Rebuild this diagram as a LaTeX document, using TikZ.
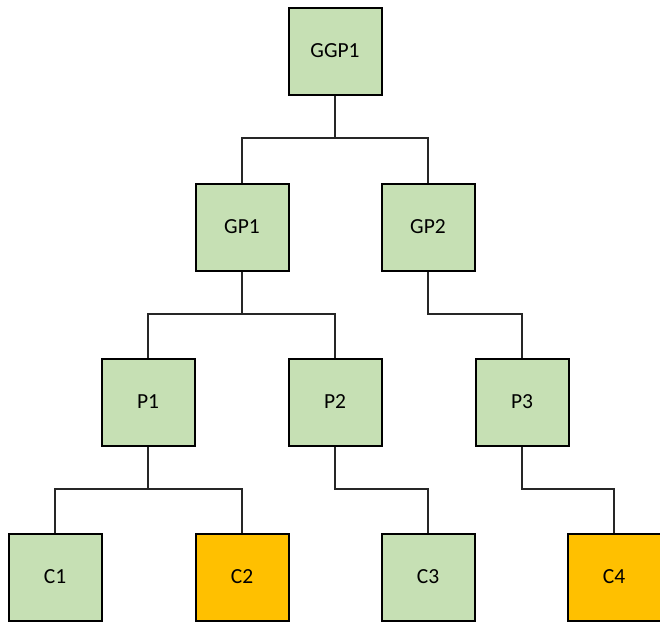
\documentclass[tikz,border=0pt]{standalone}
\usepackage{fontspec}
\setmainfont{Carlito}
\definecolor{leafgreen}{HTML}{C6E0B4}
\definecolor{amber}{HTML}{FFC000}
\begin{document}
\begin{tikzpicture}[x=1pt,y=-1pt,
  person/.style={draw=black,line width=2pt,fill=leafgreen,minimum width=93pt,minimum height=87pt,inner sep=0pt,font=\fontsize{21.5}{25}\selectfont},
  marked/.style={person,fill=amber},
  link/.style={draw=black!85,line width=1.3pt}]
\useasboundingbox (0,0) rectangle (660,621);
% generation 0
\node[person] (ggp1) at (335,51) {GGP1};
% generation 1
\node[person] (gp1) at (242,227) {GP1};
\node[person] (gp2) at (428,227) {GP2};
% generation 2
\node[person] (p1) at (148,402) {P1};
\node[person] (p2) at (335,402) {P2};
\node[person] (p3) at (522,402) {P3};
% generation 3
\node[person] (c1) at (55,577) {C1};
\node[marked] (c2) at (242,577) {C2};
\node[person] (c3) at (428,577) {C3};
\node[marked] (c4) at (614,577) {C4};
% elbow connectors
\draw[link] (ggp1.south) |- (335,138) -| (gp1.north);
\draw[link] (335,138) -| (gp2.north);
\draw[link] (gp1.south) |- (242,314) -| (p1.north);
\draw[link] (242,314) -| (p2.north);
\draw[link] (gp2.south) |- (522,314) -| (p3.north);
\draw[link] (p1.south) |- (148,489) -| (c1.north);
\draw[link] (148,489) -| (c2.north);
\draw[link] (p2.south) |- (428,489) -| (c3.north);
\draw[link] (p3.south) |- (614,489) -| (c4.north);
\end{tikzpicture}
\end{document}
